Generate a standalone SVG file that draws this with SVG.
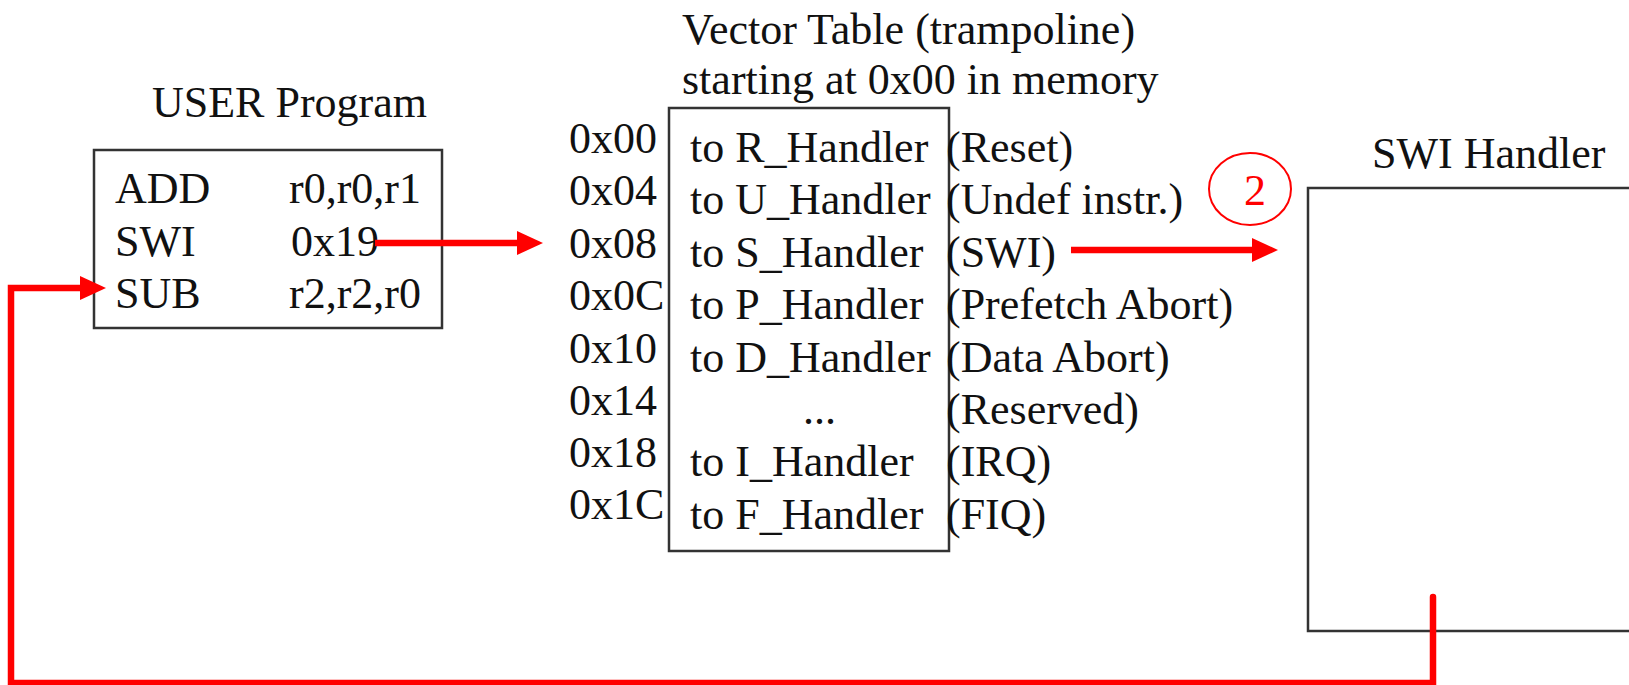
<svg xmlns="http://www.w3.org/2000/svg" width="1629" height="685" viewBox="0 0 1629 685">
  <style>
    .t { font-family: "Liberation Serif", "Times New Roman", serif; font-size: 44px; fill: #111; }
    .red { fill: #ff0000; }
    .box { fill: none; stroke: #333; stroke-width: 2.5; }
    .wire { fill: none; stroke: #ff0000; stroke-width: 6.5; }
  </style>
  <defs>
    <marker id="arrow" markerUnits="userSpaceOnUse" markerWidth="27" markerHeight="26" refX="1" refY="12" orient="auto">
      <path d="M0,0 L26,12 L0,24 z" fill="#ff0000"/>
    </marker>
  </defs>

  <rect width="1629" height="685" fill="#fff"/>

  <!-- user program -->
  <g id="user-program">
    <text class="t" x="152" y="117">USER Program</text>
    <rect class="box" x="94" y="150" width="348" height="178"/>
    <text class="t" x="115" y="203">ADD</text>
    <text class="t" x="289" y="203">r0,r0,r1</text>
    <text class="t" x="115" y="256">SWI</text>
    <text class="t" x="291" y="256">0x19</text>
    <text class="t" x="115" y="308">SUB</text>
    <text class="t" x="289" y="308">r2,r2,r0</text>
  </g>

  <!-- vector table -->
  <g id="vector-table">
    <text class="t" x="682" y="44">Vector Table (trampoline)</text>
    <text class="t" x="682" y="94">starting at 0x00 in memory</text>
    <rect class="box" x="669" y="108" width="280" height="443"/>
    <g>
      <text class="t" x="569" y="153">0x00</text>
      <text class="t" x="569" y="205">0x04</text>
      <text class="t" x="569" y="258">0x08</text>
      <text class="t" x="569" y="310">0x0C</text>
      <text class="t" x="569" y="363">0x10</text>
      <text class="t" x="569" y="415">0x14</text>
      <text class="t" x="569" y="467">0x18</text>
      <text class="t" x="569" y="519">0x1C</text>
    </g>
    <g>
      <text class="t" x="690" y="162">to R_Handler</text>
      <text class="t" x="690" y="214">to U_Handler</text>
      <text class="t" x="690" y="267">to S_Handler</text>
      <text class="t" x="690" y="319">to P_Handler</text>
      <text class="t" x="690" y="372">to D_Handler</text>
      <text class="t" x="803" y="424">...</text>
      <text class="t" x="690" y="476">to I_Handler</text>
      <text class="t" x="690" y="529">to F_Handler</text>
    </g>
    <g>
      <text class="t" x="946" y="162">(Reset)</text>
      <text class="t" x="946" y="214">(Undef instr.)</text>
      <text class="t" x="946" y="267">(SWI)</text>
      <text class="t" x="946" y="319">(Prefetch Abort)</text>
      <text class="t" x="946" y="372">(Data Abort)</text>
      <text class="t" x="946" y="424">(Reserved)</text>
      <text class="t" x="946" y="476">(IRQ)</text>
      <text class="t" x="946" y="529">(FIQ)</text>
    </g>
  </g>

  <!-- step marker -->
  <g id="step-2">
    <ellipse cx="1250" cy="189" rx="41" ry="36" fill="none" stroke="#ff0000" stroke-width="2"/>
    <text class="t red" x="1255" y="205" text-anchor="middle">2</text>
  </g>

  <!-- swi handler -->
  <g id="swi-handler">
    <text class="t" x="1372" y="168">SWI Handler</text>
    <rect class="box" x="1308" y="188" width="400" height="443"/>
  </g>

  <!-- connectors -->
  <g id="connectors">
    <path class="wire" d="M375,243 H518" marker-end="url(#arrow)"/>
    <path class="wire" d="M1071,250 H1253" marker-end="url(#arrow)"/>
    <path class="wire" d="M1433,597 V683 H11 V288 H81" stroke-linecap="round" marker-end="url(#arrow)"/>
  </g>
</svg>
